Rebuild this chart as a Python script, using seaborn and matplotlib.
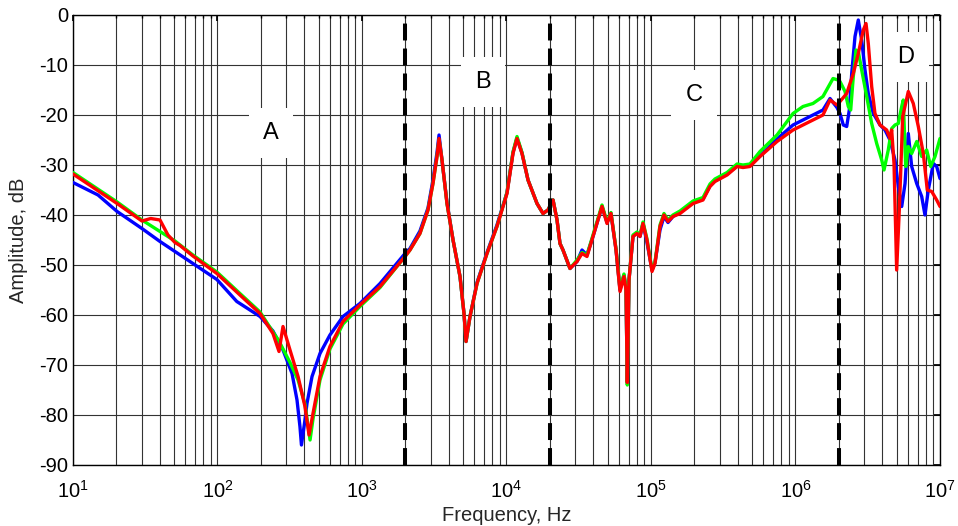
import numpy as np
import pandas as pd
import matplotlib
matplotlib.use("Agg")
import matplotlib.pyplot as plt
import seaborn as sns

# ---------------- data ----------------
freq_blue = [10, 14.9, 20.2, 30, 40, 67.6, 99, 136, 197, 242, 284, 328, 355, 372, 381,
             403, 416, 451, 512, 600, 739, 968, 1333, 1985,
             2148, 2518, 2862, 3098, 3304, 3412, 3578, 3874, 4266, 4767, 5080, 5248,
             5590, 6252, 7330, 8590, 10080, 11090, 11820, 12800, 14090, 16260, 17890,
             19370, 20990, 22370, 23450, 24600, 27500, 30760, 33310, 36060, 39680,
             45810, 49610, 52840, 57280, 61030, 65000, 67140, 68550, 70420, 75060,
             79980, 83930, 88050, 93800, 101600, 106600, 115400, 123000, 131100,
             141900, 158800, 195400, 229000, 256000, 277000, 336000, 394000, 433000,
             484000, 568000, 745000, 961000, 1259000, 1549000, 1733000, 1936000,
             2032000, 2142000, 2261000, 2357000, 2449000, 2581000, 2720000, 2871000,
             3027000, 3190000, 3455000, 3845000, 4161000, 4508000, 4882000, 5146000,
             5433000, 5728000, 6034000, 6368000, 6900000, 7470000, 7870000, 8299000,
             8987000, 9486000, 10000000]
db_blue = [-33.5, -36, -39.3, -42.7, -45.3, -49.7, -52.9, -57.3, -60.3, -63.2, -67, -71.7, -77, -82.3, -86,
           -81, -77.7, -72.3, -67.7, -64, -60.3, -57.7, -53.7, -47.7,
           -46.7, -43.2, -38.6, -33, -27.5, -24, -29, -37.5, -45, -52.3, -59.7, -65.3,
           -60.3, -53.5, -47.5, -42, -35.5, -27.5, -24.6, -27.6, -33, -37.7, -39.7,
           -39, -37, -41, -45.7, -47, -50.7, -49.3, -47, -48, -44.3,
           -38.3, -41.5, -39.7, -47, -55, -52, -54.5, -73.5, -53, -44.3,
           -43.5, -44.3, -41.7, -45.5, -51, -49.5, -43, -40.3, -41.5,
           -40.3, -39.5, -37.5, -36.8, -34.2, -33.2, -31.8, -30.2, -30.2,
           -30, -28.2, -24.8, -22, -20.3, -19, -16.7, -18.5,
           -19.7, -22, -22.3, -19, -11.7, -4.3, -1, -5,
           -11, -15.7, -19.7, -22, -23, -25, -29, -34.3,
           -38.3, -33.7, -23.7, -30.3, -33.7, -36.3, -40, -35,
           -29.7, -30.3, -32.7]

freq_green = [10, 20.2, 30, 40, 50.8, 67.6, 99, 143, 197, 242, 266.5, 284, 317.5, 361,
              403, 437, 458, 512, 600, 739, 968, 1333, 1985,
              2148, 2518, 2862, 3098, 3304, 3412, 3578, 3874, 4266, 4767, 5080, 5248,
              5590, 6252, 7330, 8590, 10080, 11090, 11820, 12800, 14090, 16260, 17890,
              19370, 20990, 22370, 23450, 24600, 27500, 30760, 33310, 36060, 39680,
              45810, 49610, 52840, 57280, 61030, 65000, 67140, 68550, 70420, 75060,
              79980, 83930, 88050, 93800, 101600, 106600, 115400, 123000, 131100,
              141900, 158800, 195400, 229000, 256000, 277000, 336000, 394000, 433000,
              484000, 568000, 745000, 961000, 1127000, 1321000, 1549000, 1818000,
              1968000, 2032000, 2201000, 2320000, 2410000, 2512000, 2623000, 2720000,
              2871000, 3110000, 3367000, 3647000, 3950000, 4098000, 4385000, 4631000,
              4882000, 5146000, 5433000, 5572000, 5789000, 6034000, 6368000, 6900000,
              7470000, 8091000, 8622000, 9235000, 10000000]
db_green = [-31.5, -37.4, -41, -43.3, -45.2, -48, -51.4, -55.7, -59.4, -63.4, -65.2, -66.8, -69.5, -73,
            -77.8, -85, -80.8, -73, -66.8, -61.8, -58.3, -54.5, -48.3,
            -47, -43.7, -39, -33.7, -28.3, -24.9, -29, -37.7, -45, -52.3, -59.7, -65.3,
            -60.3, -53.7, -47.7, -42.3, -35.5, -27.4, -24.3, -27.5, -33, -37.7, -39.7,
            -39, -37, -41, -45.7, -47, -50.7, -49, -47.5, -48, -44,
            -38, -41.4, -39.5, -46.8, -54.8, -51.8, -54.5, -74, -53, -44,
            -43.4, -44, -41.4, -44.8, -51, -49.4, -42, -39.7, -41,
            -40, -39.2, -37.2, -36.5, -33.8, -32.8, -31.5, -29.8, -30,
            -29.8, -27.3, -24, -19.7, -18.3, -17.7, -16.3, -12.7,
            -13, -13.3, -15.3, -18.3, -19, -12.3, -7, -7.3,
            -11, -16.3, -21.7, -25.7, -29, -31, -27, -22.7,
            -22, -21.7, -18.3, -17, -30.3, -26.3, -27.7, -25.3,
            -28.3, -27, -30.3, -28.3, -24.7]

freq_red = [10, 20.2, 30, 34.5, 40, 45.4, 50.8, 55, 67.6, 99, 143, 197, 242, 266.5, 284,
            317.5, 361, 403, 430, 458, 512, 600, 739, 968, 1333, 1985,
            2148, 2518, 2862, 3098, 3304, 3412, 3578, 3874, 4266, 4767, 5080, 5248,
            5590, 6252, 7330, 8590, 10080, 11090, 11820, 12800, 14090, 16260, 17890,
            19370, 20990, 22370, 23450, 24600, 27500, 30760, 33310, 36060, 39680,
            45810, 49610, 52840, 57280, 61030, 65000, 67140, 68550, 70420, 75060,
            79980, 83930, 88050, 93800, 101600, 106600, 115400, 123000, 131100,
            141900, 158800, 195400, 229000, 256000, 277000, 336000, 394000, 433000,
            484000, 568000, 745000, 961000, 1259000, 1549000, 1733000, 1936000,
            2032000, 2261000, 2512000, 2720000, 2946000, 3076000, 3190000, 3367000,
            3548000, 3845000, 4276000, 4508000, 4631000, 4805000, 5012000, 5228000,
            5521000, 6034000, 6535000, 7079000, 7663000, 8166000, 8762000, 9486000,
            10000000]
db_red = [-31.8, -37.7, -41.2, -40.7, -41, -44, -45.5, -46.1, -48.2, -51.7, -56, -59.7, -63.7, -67.3, -62.3,
          -67, -72.3, -78.3, -84, -79.7, -72.3, -66.3, -61.3, -58, -54.3, -48.3,
          -47, -43.7, -39, -33.7, -28.3, -24.7, -29, -37.7, -45, -52.3, -59.7, -65.3,
          -60.3, -53.7, -47.7, -42.3, -35.7, -27.7, -24.7, -27.7, -33, -37.7, -39.7,
          -39, -37, -41, -45.7, -47, -50.7, -49.3, -47.7, -48.3, -44.3,
          -38.3, -41.7, -39.7, -47, -55.3, -52.3, -55, -73.5, -53, -44.3,
          -43.7, -44.3, -41.7, -45, -51.3, -49.7, -42.3, -40, -41.3,
          -40.3, -39.7, -37.7, -37, -34.3, -33.3, -32, -30.3, -30.5,
          -30.3, -28.3, -25.3, -23, -21.3, -20, -17, -18,
          -17.3, -15.7, -11.7, -7.7, -3, -1.7, -5.7, -14.3,
          -19.7, -22, -23, -24.7, -23, -29.7, -51, -39,
          -20.3, -15.3, -17.7, -22.3, -27.7, -35, -35.3, -37,
          -38.3]

series_names = ["blue", "green", "red"]
series_colors = ["#0000FF", "#00FF00", "#FF0000"]

boundary_freqs = [2e3, 2e4, 2e6]
region_labels = ["A", "B", "C", "D"]
region_label_freqs = [234, 6870, 198500, 5.82e6]
region_label_db = [-23.6, -13.4, -16, -8.4]

x_ticks = [1e1, 1e2, 1e3, 1e4, 1e5, 1e6, 1e7]
x_ticklabels = [r"$10^{1}$", r"$10^{2}$", r"$10^{3}$", r"$10^{4}$", r"$10^{5}$", r"$10^{6}$", r"$10^{7}$"]
y_ticks = [0, -10, -20, -30, -40, -50, -60, -70, -80, -90]

# ---------------- figure ----------------
sns.set_theme(style="white")
plt.rcParams["font.family"] = ["Liberation Sans", "DejaVu Sans"]
plt.rcParams["mathtext.fontset"] = "custom"
plt.rcParams["mathtext.rm"] = "Liberation Sans"
plt.rcParams["mathtext.it"] = "Liberation Sans"

fig = plt.figure(figsize=(9.58, 5.26), dpi=100)
ax = fig.add_axes([73 / 958, 1 - 465 / 526, 867 / 958, 450 / 526])
ax.set_xscale("log")

frames = []
for name, f, d in [("blue", freq_blue, db_blue), ("green", freq_green, db_green), ("red", freq_red, db_red)]:
    frames.append(pd.DataFrame({"freq": f, "db": d, "series": name}))
df = pd.concat(frames, ignore_index=True)

sns.lineplot(data=df, x="freq", y="db", hue="series", hue_order=series_names,
             palette=series_colors, estimator=None, sort=False, legend=False,
             linewidth=2.4, ax=ax, zorder=4)

for bf in boundary_freqs:
    ax.axvline(bf, color="black", linewidth=2.9, linestyle=(0, (4.2, 2.0)), zorder=5)

for lab, lf, ld in zip(region_labels, region_label_freqs, region_label_db):
    ax.text(lf, ld, lab, ha="center", va="center", fontsize=17, color="black", zorder=3,
            bbox=dict(boxstyle="square,pad=0.6", facecolor="white", edgecolor="none"))

ax.set_xlim(1e1, 1e7)
ax.set_ylim(-90, 0)
ax.set_xticks(x_ticks)
ax.set_xticklabels(x_ticklabels)
ax.set_yticks(y_ticks)
ax.set_yticklabels([str(v) for v in y_ticks])

ax.grid(True, which="major", axis="both", color="#333333", linewidth=0.8, linestyle="-", zorder=0)
ax.grid(True, which="minor", axis="x", color="#333333", linewidth=0.8, linestyle="-", zorder=0)
ax.set_axisbelow(True)

ax.tick_params(axis="both", which="both", direction="in", top=True, right=True,
               labelsize=14.5, colors="black", length=4)
ax.tick_params(axis="x", which="minor", length=2)
ax.tick_params(axis="x", pad=11)
for s in ax.spines.values():
    s.set_color("black")
    s.set_linewidth(1.0)

ax.set_xlabel("Frequency, Hz", fontsize=14.5, labelpad=3)
ax.set_ylabel("Amplitude, dB", fontsize=14.5, labelpad=8)

fig.savefig("out.png", dpi=100)
